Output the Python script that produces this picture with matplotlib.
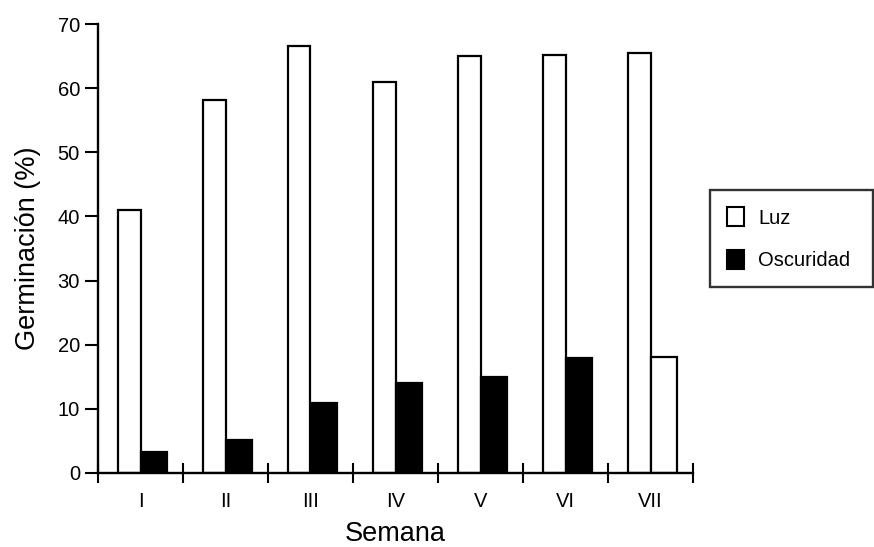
import matplotlib
matplotlib.use("Agg")
import matplotlib.pyplot as plt
from matplotlib.patches import Patch
import numpy as np

plt.rcParams['font.family'] = ['Liberation Sans', 'DejaVu Sans']

semanas = ["I", "II", "III", "IV", "V", "VI", "VII"]
luz = [41, 58.2, 66.5, 61, 65, 65.2, 65.5]
oscuridad = [3.3, 5.1, 10.9, 14, 15, 18, 18.1]
osc_colors = ["black", "black", "black", "black", "black", "black", "white"]
yticks = [0, 10, 20, 30, 40, 50, 60, 70]

W, H = 874, 547
fig = plt.figure(figsize=(W / 100, H / 100), dpi=100)
x0, x1 = 98, 693
y0, y1 = 473, 24
ax = fig.add_axes([x0 / W, (H - y0) / H, (x1 - x0) / W, (y0 - y1) / H])

idx = np.arange(len(semanas))
w_luz = 0.26
w_osc = 0.31
ax.bar(idx + 0.5 - w_luz, luz, width=w_luz, align='edge', color='white',
       edgecolor='black', linewidth=1.6, label='Luz')
ax.bar(idx + 0.5, oscuridad, width=w_osc, align='edge', color=osc_colors,
       edgecolor='black', linewidth=1.6, label='Oscuridad')

ax.set_xlim(0, len(semanas))
ax.set_ylim(0, 70)
ax.set_yticks(yticks)
ax.tick_params(axis='y', direction='out', length=9.5, width=1.5, labelsize=14.5, pad=3.5)

ax.set_xticks(np.arange(len(semanas) + 1))
ax.set_xticklabels([])
ax.set_xticks(idx + 0.5, minor=True)
ax.set_xticklabels(semanas, minor=True)
ax.tick_params(axis='x', which='major', direction='inout', length=15, width=1.5)
ax.tick_params(axis='x', which='minor', length=0, labelsize=14.5, pad=14)

for s in ['top', 'right']:
    ax.spines[s].set_visible(False)
for s in ['left', 'bottom']:
    ax.spines[s].set_linewidth(1.7)

ax.set_ylabel('Germinación (%)', fontsize=19.5, labelpad=12)
ax.set_xlabel('Semana', fontsize=19.5, labelpad=7)

handles = [Patch(facecolor='white', edgecolor='black', linewidth=1.5),
           Patch(facecolor='black', edgecolor='black', linewidth=1.5)]
leg = fig.legend(handles, ['Luz', 'Oscuridad'], loc='upper left',
                 bbox_to_anchor=(710 / W, 1 - 288 / H, 163 / W, 98 / H),
                 mode='expand', fontsize=14.5,
                 frameon=True, fancybox=False, edgecolor='black',
                 handlelength=0.85, handleheight=1.1, handletextpad=0.7,
                 labelspacing=1.1, borderpad=0.85, borderaxespad=0)
leg.get_frame().set_linewidth(1.7)

fig.savefig('out.png', dpi=100)
